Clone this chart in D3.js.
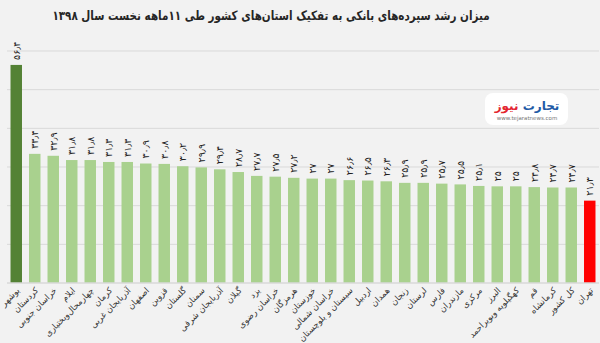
<!DOCTYPE html>
<html lang="fa">
<head>
<meta charset="utf-8">
<script src="https://cdn.jsdelivr.net/npm/d3@7"></script>
<style>
  html, body { margin: 0; padding: 0; background: #f2f2f2; }
  svg { display: block; font-family: "DejaVu Sans", "Noto Sans", sans-serif; }
</style>
</head>
<body>
<svg id="chart" width="600" height="343"></svg>
<script>
// Bank deposit growth by province, first 11 months of 1398
const provinces = [
  "بوشهر", "کردستان", "خراسان جنوبی", "ایلام", "چهارمحال‌وبختیاری", "کرمان",
  "آذربایجان غربی", "اصفهان", "قزوین", "گلستان", "سمنان", "آذربایجان شرقی",
  "گیلان", "یزد", "خراسان رضوی", "هرمزگان", "خوزستان", "خراسان شمالی",
  "سیستان و بلوچستان", "اردبیل", "همدان", "زنجان", "لرستان", "فارس",
  "مازندران", "مرکزی", "البرز", "کهگیلویه وبویراحمد", "قم", "کرمانشاه",
  "کل کشور", "تهران"
];
const growth = [
  56.4, 33.4, 32.9, 31.8, 31.8, 31.3,
  31.3, 30.9, 30.8, 30.2, 29.9, 29.4,
  28.7, 27.7, 27.5, 27.2, 27, 27,
  26.6, 26.5, 26.3, 25.9, 25.9, 25.7,
  25.5, 25.1, 25, 25, 24.8, 24.7,
  24.7, 21.3
];
const gridTicks = [10, 20, 30, 40, 50, 60];
const highlightTop = "بوشهر";
const highlightLow = "تهران";

const title = "میزان رشد سپرده‌های بانکی به تفکیک استان‌های کشور طی ۱۱ماهه نخست سال ۱۳۹۸";

const svg = d3.select("#chart");
const W = 600, H = 343;

svg.append("rect").attr("width", W).attr("height", H).attr("fill", "#f2f2f2");

const x = d3.scaleBand()
  .domain(provinces)
  .range([7, 599])
  .paddingInner(0.38)
  .paddingOuter(0.19);

const y = d3.scaleLinear().domain([0, 60]).range([283, 51]);

// Persian digits with Arabic decimal separator
const faDigits = "۰۱۲۳۴۵۶۷۸۹";
const toFa = v => String(v).replace(/\d/g, d => faDigits[+d]).replace(".", "٫");

// gridlines
svg.append("g")
  .selectAll("line")
  .data(gridTicks)
  .join("line")
  .attr("x1", 7).attr("x2", 599)
  .attr("y1", d => y(d)).attr("y2", d => y(d))
  .attr("stroke", "#d9d9d9")
  .attr("stroke-width", 1);

// bars
const data = provinces.map((p, i) => ({ p, v: growth[i] }));
svg.append("g")
  .selectAll("rect")
  .data(data)
  .join("rect")
  .attr("x", d => x(d.p))
  .attr("width", x.bandwidth())
  .attr("y", d => y(d.v))
  .attr("height", d => y(0) - y(d.v))
  .attr("fill", d => d.p === highlightTop ? "#548235" : d.p === highlightLow ? "#ff0000" : "#a9d18e");

// baseline axis
const xAxis = d3.axisBottom(x).tickSize(0).tickFormat("");
svg.append("g")
  .attr("transform", `translate(0,${y(0)})`)
  .call(xAxis)
  .call(g => g.select(".domain").attr("stroke", "#d9d9d9").attr("stroke-width", 1.5)
    .attr("d", "M7,0H599"));

// value labels, rotated
svg.append("g")
  .selectAll("text")
  .data(data)
  .join("text")
  .attr("transform", d => `translate(${x(d.p) + x.bandwidth() / 2 + 3.5},${y(d.v) - 5}) rotate(-90)`)
  .attr("text-anchor", "start")
  .attr("font-size", 9.5)
  .attr("fill", "#1a1a1a")
  .text(d => toFa(d.v));

// category labels, rotated 45°
svg.append("g")
  .selectAll("text")
  .data(provinces)
  .join("text")
  .attr("transform", d => `translate(${x(d) + x.bandwidth() / 2 + 4},${291}) rotate(-45)`)
  .attr("text-anchor", "end")
  .attr("font-size", 8.5)
  .attr("fill", "#333")
  .text(d => d);

// title, condensed horizontally to a fixed width
const titleWidth = 438, titleCx = 271;
const titleText = svg.append("text")
  .attr("text-anchor", "middle")
  .attr("font-size", 13)
  .attr("font-weight", "bold")
  .attr("fill", "#262626")
  .text(title);
const tLen = titleText.node().getComputedTextLength() || titleWidth;
titleText.attr("transform", `translate(${titleCx},20) scale(${titleWidth / tLen},1)`);

// brand badge
const badge = svg.append("g").attr("transform", "translate(485,93)");
badge.append("rect")
  .attr("width", 83).attr("height", 32).attr("rx", 8)
  .attr("fill", "#ffffff");
const brand = badge.append("text")
  .attr("x", 42).attr("y", 17)
  .attr("text-anchor", "middle")
  .attr("font-size", 12)
  .attr("font-weight", "bold");
brand.append("tspan").attr("fill", "#1f5aa6").text("تجارت");
brand.append("tspan").attr("fill", "#e3262f").text(" نیوز");
badge.append("text")
  .attr("x", 42).attr("y", 26.5)
  .attr("text-anchor", "middle")
  .attr("font-size", 5.5)
  .attr("fill", "#777")
  .text("www.tejaratnews.com");
</script>
</body>
</html>
